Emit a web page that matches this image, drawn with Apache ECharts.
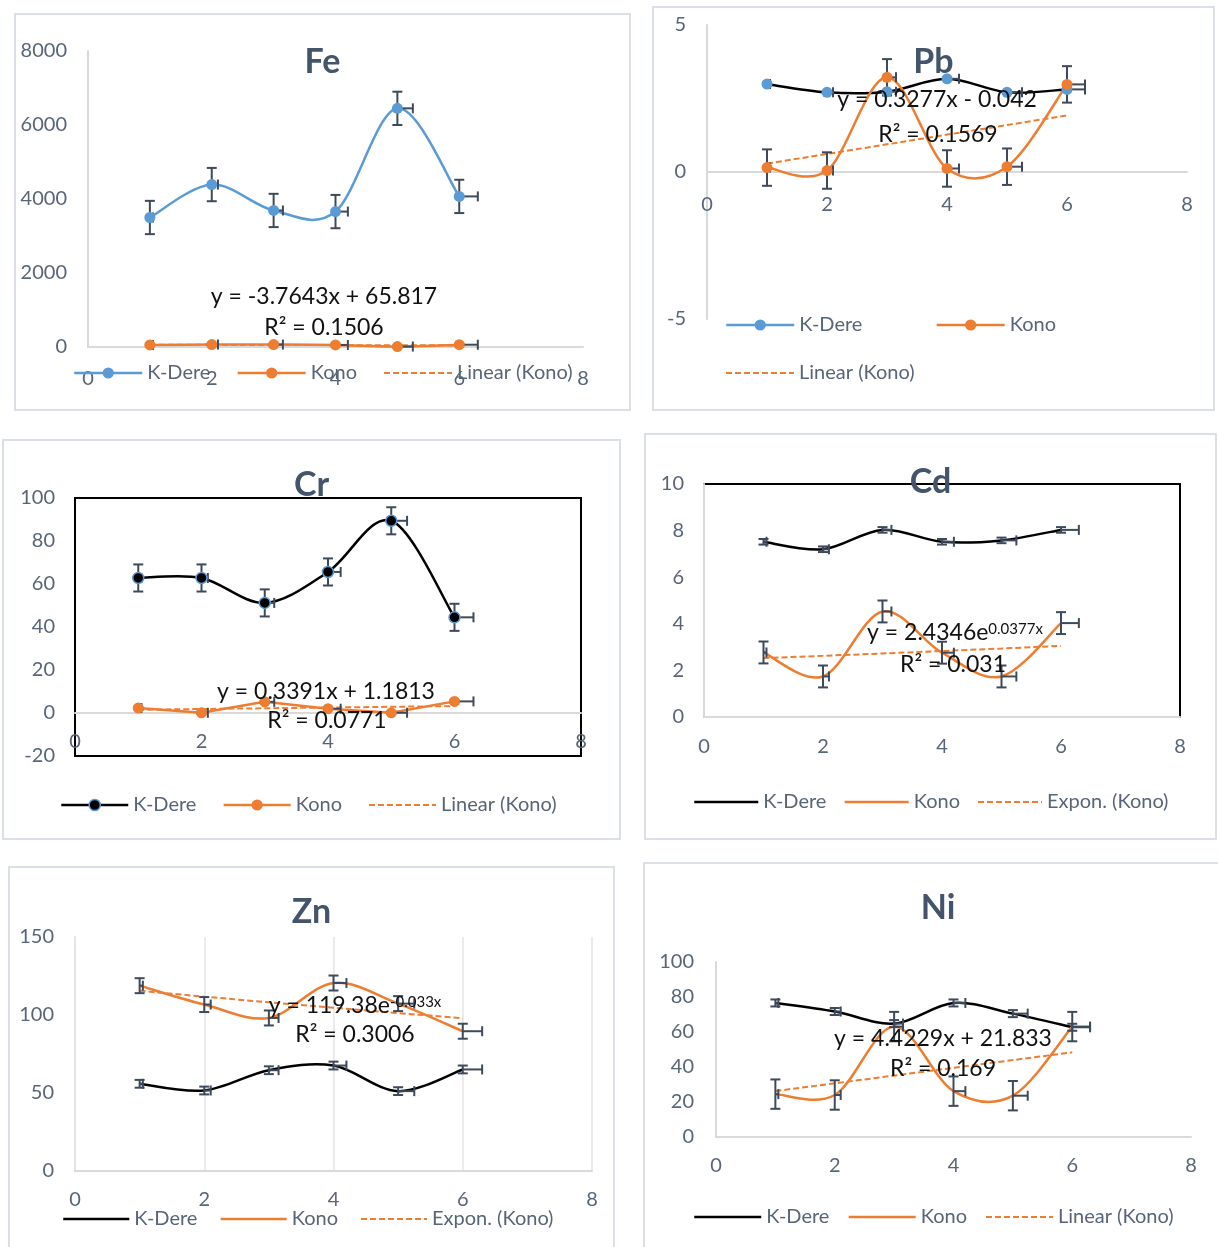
<!DOCTYPE html>
<html>
<head>
<meta charset="utf-8">
<title>Heavy metals – K-Dere vs Kono</title>
<script src="https://cdn.jsdelivr.net/npm/echarts/dist/echarts.min.js"></script>
<style>
  html, body { margin: 0; padding: 0; background: #fff; }
  body { position: relative; width: 1218px; height: 1247px; overflow: hidden; }
  .frame { position: absolute; box-sizing: border-box; border: 2px solid #dbe0e7; }
  .chart { position: absolute; }
</style>
</head>
<body>
<script>
// ---------- data ----------
// sampling stations along the x axis
const sites = [1, 2, 3, 4, 5, 6];
const xAxisRange = [0, 8, 2];          // min, max, interval
const X_ERROR_PERCENT = 5;             // horizontal error bars (plus direction)

// Fe
const feKDere = [3500, 4390, 3690, 3660, 6450, 4070];
const feKDereErr = [450, 450, 450, 450, 450, 450];
const feKono = [55, 66, 66, 55, 12, 62];
const feKonoErr = [20, 20, 20, 20, 20, 20];
const feTrendCoef = [-3.7643, 65.817];
const feR2 = '0.1506';
const feYAxis = [0, 8000, 2000];

// Pb
const pbKDere = [2.99, 2.71, 2.73, 3.17, 2.71, 2.81];
const pbKDereErr = [0.05, 0.05, 0.05, 0.05, 0.05, 0.05];
const pbKono = [0.15, 0.05, 3.22, 0.12, 0.18, 2.98];
const pbKonoErr = [0.62, 0.62, 0.62, 0.62, 0.62, 0.62];
const pbTrendCoef = [0.3277, -0.042];
const pbR2 = '0.1569';
const pbYAxis = [-5, 5, 5];

// Cr
const crKDere = [62.8, 62.8, 51.2, 65.6, 89.4, 44.5];
const crKDereErr = [6.3, 6.3, 6.3, 6.3, 6.3, 6.3];
const crKono = [2.3, 0.1, 5.2, 2.0, 0.1, 5.4];
const crKonoErr = [0.5, 0.5, 0.5, 0.5, 0.5, 0.5];
const crTrendCoef = [0.3391, 1.1813];
const crR2 = '0.0771';
const crYAxis = [-20, 100, 20];

// Cd
const cdKDere = [7.52, 7.2, 8.03, 7.52, 7.58, 8.03];
const cdKDereErr = [0.12, 0.12, 0.12, 0.12, 0.12, 0.12];
const cdKono = [2.77, 1.74, 4.53, 2.76, 1.74, 4.03];
const cdKonoErr = [0.47, 0.47, 0.47, 0.47, 0.47, 0.47];
const cdTrendCoef = [2.4346, 0.0377];
const cdR2 = '0.031';
const cdYAxis = [0, 10, 2];

// Zn
const znKDere = [55.9, 51.6, 64.6, 67.6, 51.2, 65.1];
const znKDereErr = [2.5, 2.5, 2.5, 2.5, 2.5, 2.5];
const znKono = [118.8, 106.7, 98.1, 120.5, 107.3, 89.6];
const znKonoErr = [4.8, 4.8, 4.8, 4.8, 4.8, 4.8];
const znTrendCoef = [119.38, -0.033];
const znR2 = '0.3006';
const znYAxis = [0, 150, 50];

// Ni
const niKDere = [76.6, 71.7, 64.8, 76.6, 70.5, 62.7];
const niKDereErr = [2, 2, 2, 2, 2, 2];
const niKono = [24.5, 24.0, 63.1, 26.2, 23.6, 63.1];
const niKonoErr = [8.4, 8.4, 8.4, 8.4, 8.4, 8.4];
const niTrendCoef = [4.4229, 21.833];
const niR2 = '0.169';
const niYAxis = [0, 100, 20];

const panels = [
  { key: 'fe', title: 'Fe', kDere: feKDere, kDereErr: feKDereErr, kono: feKono, konoErr: feKonoErr, trend: 'linear', coef: feTrendCoef, r2: feR2, yAxis: feYAxis },
  { key: 'pb', title: 'Pb', kDere: pbKDere, kDereErr: pbKDereErr, kono: pbKono, konoErr: pbKonoErr, trend: 'linear', coef: pbTrendCoef, r2: pbR2, yAxis: pbYAxis },
  { key: 'cr', title: 'Cr', kDere: crKDere, kDereErr: crKDereErr, kono: crKono, konoErr: crKonoErr, trend: 'linear', coef: crTrendCoef, r2: crR2, yAxis: crYAxis },
  { key: 'cd', title: 'Cd', kDere: cdKDere, kDereErr: cdKDereErr, kono: cdKono, konoErr: cdKonoErr, trend: 'expon', coef: cdTrendCoef, r2: cdR2, yAxis: cdYAxis },
  { key: 'zn', title: 'Zn', kDere: znKDere, kDereErr: znKDereErr, kono: znKono, konoErr: znKonoErr, trend: 'expon', coef: znTrendCoef, r2: znR2, yAxis: znYAxis },
  { key: 'ni', title: 'Ni', kDere: niKDere, kDereErr: niKDereErr, kono: niKono, konoErr: niKonoErr, trend: 'linear', coef: niTrendCoef, r2: niR2, yAxis: niYAxis }
];

// ---------- look ----------
const FONT = 'Lato, "Open Sans", sans-serif';
const AXIS_TEXT = '#586579';
const TITLE_COLOR = '#44546A';
const AXIS_LINE = '#d9d9d9';
const GRID_LINE = '#e4e4e4';
const ERR_COLOR = '#3e4a5b';
const EQ_COLOR = '#111111';
const BLUE = '#5B9BD5';
const ORANGE = '#ED7D31';
const BLACK = '#000000';

// page placement of each panel: frame = [left, top, width, height]; grid relative to frame
const layouts = {
  fe: { frame: [14, 13, 617, 398], grid: [74, 38, 495, 296], titleY: 49, xLabelMargin: 22, yLabelMargin: 21,
        legends: [{ left: 59, top: 350, gap: 26, w: 68, items: ['K-Dere', 'Kono', 'trend'] }],
        eq: [310, 284], r2: [310, 315], box: 'none' },
  pb: { frame: [652, 6, 563, 405], grid: [55, 19, 480, 294], titleY: 56, xLabelMargin: 23, yLabelMargin: 21,
        legends: [{ left: 73, top: 309, gap: 73, w: 68, items: ['K-Dere', 'Kono'] },
                  { left: 73, top: 357, gap: 26, w: 68, items: ['trend'] }],
        eq: [285, 94], r2: [286, 129], box: 'none' },
  cr: { frame: [2, 439, 619, 401], grid: [73, 59, 506, 258], titleY: 46, xLabelMargin: 19, yLabelMargin: 20,
        legends: [{ left: 58, top: 356, gap: 26, w: 67, items: ['K-Dere', 'Kono', 'trend'] }],
        eq: [324, 253], r2: [325, 282], box: 'full' },
  cd: { frame: [644, 433, 573, 407], grid: [60, 51, 476, 233], titleY: 49, xLabelMargin: 20, yLabelMargin: 20,
        legends: [{ left: 49, top: 359, gap: 17, w: 64, items: ['K-Dere', 'Kono', 'trend'] }],
        eq: [311, 200], r2: [309, 232], box: 'topRight' },
  zn: { frame: [8, 866, 607, 420], grid: [67, 71, 517, 234], titleY: 46, xLabelMargin: 19, yLabelMargin: 21,
        legends: [{ left: 54, top: 343, gap: 22, w: 66, items: ['K-Dere', 'Kono', 'trend'] }],
        eq: [347, 140], r2: [347, 169], box: 'none', xGrid: true },
  ni: { frame: [643, 862, 590, 420], grid: [73, 100, 475, 175], titleY: 46, xLabelMargin: 19, yLabelMargin: 22,
        legends: [{ left: 50, top: 345, gap: 18, w: 67, items: ['K-Dere', 'Kono', 'trend'] }],
        eq: [300, 177], r2: [300, 207], box: 'none' }
};

// curve colour, marker fill/border, legend line colour, smoothing
const styles = {
  fe: { kDere: { curve: BLUE, marker: BLUE, legend: BLUE, smooth: true },
        kono: { curve: ORANGE, marker: ORANGE, legend: ORANGE, smooth: true } },
  pb: { kDere: { curve: BLACK, marker: BLUE, legend: BLUE, smooth: true },
        kono: { curve: ORANGE, marker: ORANGE, legend: ORANGE, smooth: true } },
  cr: { kDere: { curve: BLACK, marker: BLACK, border: BLUE, legend: BLACK, smooth: true },
        kono: { curve: ORANGE, marker: ORANGE, legend: ORANGE, smooth: false } },
  cd: { kDere: { curve: BLACK, legend: BLACK, smooth: true },
        kono: { curve: ORANGE, legend: ORANGE, smooth: true } },
  zn: { kDere: { curve: BLACK, legend: BLACK, smooth: true },
        kono: { curve: ORANGE, legend: ORANGE, smooth: true } },
  ni: { kDere: { curve: BLACK, legend: BLACK, smooth: true },
        kono: { curve: ORANGE, legend: ORANGE, smooth: true } }
};

// ---------- series builders ----------
// smoothed connecting curve: cubic Bezier per segment (Catmull-Rom style tangents)
function curveSeries(values, color, smooth) {
  const n = sites.length;
  return {
    type: 'custom', silent: true, z: 2, animation: false,
    data: sites.slice(0, -1).map((x, i) => [x, values[i]]),
    renderItem(params, api) {
      const i = params.dataIndex;
      const pt = k => {
        const j = Math.max(0, Math.min(n - 1, k));
        return api.coord([sites[j], values[j]]);
      };
      const p0 = pt(i - 1), p1 = pt(i), p2 = pt(i + 1), p3 = pt(i + 2);
      const t = smooth ? 1 / 6 : 0;
      return {
        type: 'bezierCurve',
        shape: {
          x1: p1[0], y1: p1[1], x2: p2[0], y2: p2[1],
          cpx1: p1[0] + (p2[0] - p0[0]) * t, cpy1: p1[1] + (p2[1] - p0[1]) * t,
          cpx2: p2[0] - (p3[0] - p1[0]) * t, cpy2: p2[1] - (p3[1] - p1[1]) * t
        },
        style: { stroke: color, lineWidth: 2.5, fill: 'none' }
      };
    }
  };
}

// vertical +/- error bars and a horizontal plus-direction percentage bar
function errorBarSeries(values, errs) {
  return {
    type: 'custom', silent: true, z: 4, animation: false,
    data: sites.map((x, i) => [x, values[i], errs[i]]),
    renderItem(params, api) {
      const x = api.value(0), y = api.value(1), e = api.value(2);
      const c = api.coord([x, y]);
      const hi = api.coord([x, y + e]);
      const lo = api.coord([x, y - e]);
      const xr = api.coord([x * (1 + X_ERROR_PERCENT / 100), y]);
      const cap = 5;
      const seg = (x1, y1, x2, y2) => ({
        type: 'line', shape: { x1, y1, x2, y2 },
        style: { stroke: ERR_COLOR, lineWidth: 2 }
      });
      return {
        type: 'group',
        children: [
          seg(c[0], hi[1], c[0], lo[1]),
          seg(c[0] - cap, hi[1], c[0] + cap, hi[1]),
          seg(c[0] - cap, lo[1], c[0] + cap, lo[1]),
          seg(c[0], c[1], xr[0], c[1]),
          seg(xr[0], c[1] - cap, xr[0], c[1] + cap)
        ]
      };
    }
  };
}

function equationText(p) {
  const [a, b] = p.coef;
  if (p.trend === 'linear') {
    return 'y = ' + a + 'x ' + (b < 0 ? '- ' + (-b) : '+ ' + b);
  }
  return 'y = ' + a + 'e{sup|' + b + 'x}';
}

function makeOption(p, L, S) {
  const trendName = p.trend === 'linear' ? 'Linear (Kono)' : 'Expon. (Kono)';
  const trendX = p.trend === 'linear' ? [sites[0], sites[sites.length - 1]] : sites;
  const trendData = trendX.map(x => [x, p.trend === 'linear'
    ? p.coef[0] * x + p.coef[1]
    : p.coef[0] * Math.exp(p.coef[1] * x)]);

  const groups = [
    { name: 'K-Dere', values: p.kDere, err: p.kDereErr, st: S.kDere },
    { name: 'Kono', values: p.kono, err: p.konoErr, st: S.kono }
  ];

  const series = [];
  groups.forEach(g => {
    series.push(curveSeries(g.values, g.st.curve, g.st.smooth));
    series.push(errorBarSeries(g.values, g.err));
    series.push({
      type: 'line', name: g.name, silent: true, animation: false, z: 5,
      data: sites.map((x, i) => [x, g.values[i]]),
      symbol: g.st.marker ? 'circle' : 'none', symbolSize: 11,
      itemStyle: { color: g.st.marker || g.st.legend, borderColor: g.st.border || g.st.marker || g.st.legend, borderWidth: g.st.border ? 1.5 : 0 },
      lineStyle: { color: g.st.legend, width: 2.5, opacity: 0 }
    });
  });
  series.push({
    type: 'line', name: trendName, silent: true, animation: false, z: 3,
    data: trendData, symbol: 'none',
    lineStyle: { color: ORANGE, width: 2, type: [6, 3] }
  });

  const legendItem = key => {
    if (key === 'trend') {
      return { name: trendName, lineStyle: { color: ORANGE, width: 2, type: [6, 3], opacity: 1 }, itemStyle: { opacity: 0 } };
    }
    const st = key === 'K-Dere' ? S.kDere : S.kono;
    return {
      name: key,
      lineStyle: { color: st.legend, width: 2.5, type: 'solid', opacity: 1 },
      itemStyle: st.marker
        ? { color: st.marker, borderColor: st.border || st.marker, borderWidth: st.border ? 1.5 : 0, opacity: 1 }
        : { opacity: 0 }
    };
  };

  const labelStyle = { color: AXIS_TEXT, fontSize: 20, fontFamily: FONT };

  // the category axis sits on y = 0: shift it up from the grid bottom by the share of the range below zero
  const [yMin, yMax] = p.yAxis;
  const zeroOffset = yMin < 0 ? -L.grid[3] * (-yMin) / (yMax - yMin) : 0;

  return {
    animation: false,
    title: {
      text: p.title, left: 'center', top: L.titleY - 17, padding: 0,
      textStyle: { fontSize: 34, fontWeight: 'bold', color: TITLE_COLOR, fontFamily: FONT }
    },
    legend: L.legends.map(lg => ({
      orient: 'horizontal', left: lg.left, top: lg.top, padding: 0,
      itemWidth: lg.w, itemHeight: 14, itemGap: lg.gap, selectedMode: false,
      textStyle: { fontSize: 20, color: AXIS_TEXT, fontFamily: FONT },
      data: lg.items.map(legendItem)
    })),
    grid: {
      left: L.grid[0], top: L.grid[1], width: L.grid[2], height: L.grid[3],
      containLabel: false, outerBoundsMode: 'none',
      show: L.box !== 'none', borderColor: '#000', borderWidth: 2, backgroundColor: 'transparent'
    },
    xAxis: {
      type: 'value', min: xAxisRange[0], max: xAxisRange[1], interval: xAxisRange[2],
      position: 'bottom', offset: zeroOffset,
      axisLine: { show: true, onZero: false, lineStyle: { color: AXIS_LINE, width: 2 } },
      axisTick: { show: false },
      splitLine: { show: !!L.xGrid, lineStyle: { color: GRID_LINE, width: 1.5 } },
      axisLabel: Object.assign({ margin: L.xLabelMargin, formatter: v => String(v) }, labelStyle)
    },
    yAxis: {
      type: 'value', min: yMin, max: yMax, interval: p.yAxis[2],
      axisLine: { show: L.box !== 'full', onZero: false, lineStyle: { color: L.xGrid ? GRID_LINE : AXIS_LINE, width: 2 } },
      axisTick: { show: false },
      splitLine: { show: false },
      axisLabel: Object.assign({ margin: L.yLabelMargin, formatter: v => String(v) }, labelStyle)
    },
    graphic: [
      {
        type: 'text', x: L.eq[0], y: L.eq[1], z: 20, silent: true,
        style: {
          text: equationText(p), fontSize: 23, fontFamily: FONT, fill: EQ_COLOR,
          align: 'center', verticalAlign: 'middle',
          rich: { sup: { fontSize: 15, fontFamily: FONT, fill: EQ_COLOR, verticalAlign: 'top' } }
        }
      },
      {
        type: 'text', x: L.r2[0], y: L.r2[1], z: 20, silent: true,
        style: {
          text: 'R\u00b2 = ' + p.r2, fontSize: 23, fontFamily: FONT, fill: EQ_COLOR,
          align: 'center', verticalAlign: 'middle'
        }
      }
    ],
    series
  };
}

// ---------- render ----------
panels.forEach(p => {
  const L = layouts[p.key];
  const [fx, fy, fw, fh] = L.frame;
  const frame = document.createElement('div');
  frame.className = 'frame';
  Object.assign(frame.style, { left: fx + 'px', top: fy + 'px', width: fw + 'px', height: fh + 'px' });
  const el = document.createElement('div');
  el.className = 'chart';
  el.id = 'chart-' + p.key;
  Object.assign(el.style, { left: fx + 'px', top: fy + 'px', width: fw + 'px', height: fh + 'px' });
  document.body.appendChild(frame);
  document.body.appendChild(el);
  const chart = echarts.init(el, null, { renderer: 'canvas' });
  chart.setOption(makeOption(p, L, styles[p.key]));
});
</script>
</body>
</html>
